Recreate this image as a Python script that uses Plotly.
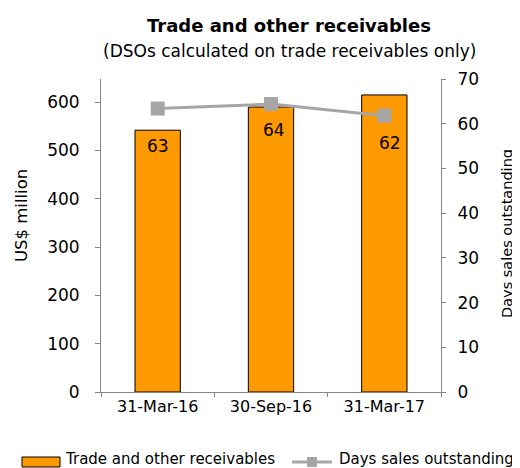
import plotly.graph_objects as go

categories = ["31-Mar-16", "30-Sep-16", "31-Mar-17"]
receivables = [542, 590, 615]
dso = [63.4, 64.4, 61.8]
dso_labels = ["63", "64", "62"]

FONT = "DejaVu Sans"
AXIS_GRAY = "#868686"
BAR_COLOR = "#FF9900"
LINE_COLOR = "#A6A6A6"

fig = go.Figure()
fig.add_trace(go.Bar(
    x=categories, y=receivables, name="Trade and other receivables",
    marker=dict(color=BAR_COLOR, line=dict(color="#000000", width=1)),
    width=0.4, yaxis="y",
))
fig.add_trace(go.Scatter(
    x=categories, y=dso, name="Days sales outstanding", mode="lines+markers",
    line=dict(color=LINE_COLOR, width=3),
    marker=dict(symbol="square", size=14, color=LINE_COLOR),
    yaxis="y2",
))

label_shift = [-37, -26, -27]
label_xshift = [0, 3, 6]
for c, v, t, s, xs in zip(categories, dso, dso_labels, label_shift, label_xshift):
    fig.add_annotation(x=c, y=v, yref="y2", text=t, showarrow=False,
                       xanchor="center", yanchor="middle",
                       yshift=s, xshift=xs, font=dict(size=17, color="#000000", family=FONT))

# The page body has an 8px margin, so the figure is sized to fit inside the window.
fig.update_layout(
    width=512, height=460,
    margin=dict(l=93, r=79, t=71, b=76, autoexpand=False),
    paper_bgcolor="white", plot_bgcolor="white",
    font=dict(family=FONT, size=15, color="#000000"),
    showlegend=False,
    bargap=0.6,
    xaxis=dict(showline=True, linecolor=AXIS_GRAY, linewidth=1, ticks="outside",
               tickson="boundaries", ticklen=4, tickcolor=AXIS_GRAY,
               tickfont=dict(size=16)),
    yaxis=dict(range=[0, 648], dtick=100, showline=True, linecolor=AXIS_GRAY,
               ticks="outside", ticklen=5, tickcolor=AXIS_GRAY, showgrid=False,
               zeroline=False, tickfont=dict(size=17), ticklabelstandoff=12),
    yaxis2=dict(range=[0, 70], dtick=10, overlaying="y", side="right", showline=True,
                linecolor=AXIS_GRAY, ticks="outside", ticklen=4, tickcolor=AXIS_GRAY,
                showgrid=False, zeroline=False, tickfont=dict(size=17), ticklabelstandoff=8),
)

def px_x(p):
    return (p - 101) / 340
def px_y(p):
    return (392 - p) / 313

def text_at(px, py, text, size, xanchor="center", angle=0):
    fig.add_annotation(x=px_x(px), y=px_y(py), xref="paper", yref="paper",
                       xanchor=xanchor, yanchor="middle", text=text, textangle=angle,
                       showarrow=False, font=dict(size=size, color="#000", family=FONT))

text_at(289, 26, "<b>Trade and other receivables</b>", 18)
text_at(289, 51, "(DSOs calculated on trade receivables only)", 17)
text_at(21, 216, "US$ million", 16.5, angle=-90)
text_at(507, 234, "Days sales outstanding", 14.5, angle=-90)

# Manual legend (Excel-style wide swatch)
fig.add_shape(type="rect", xref="paper", yref="paper",
              x0=px_x(22), x1=px_x(60), y0=px_y(467), y1=px_y(457),
              fillcolor=BAR_COLOR, line=dict(color="#000000", width=1))
text_at(63, 459, "Trade and other receivables", 15, xanchor="left")
fig.add_shape(type="line", xref="paper", yref="paper",
              x0=px_x(292), x1=px_x(332), y0=px_y(462), y1=px_y(462),
              line=dict(color=LINE_COLOR, width=3))
fig.add_shape(type="rect", xref="paper", yref="paper",
              x0=px_x(307), x1=px_x(317), y0=px_y(467), y1=px_y(457),
              fillcolor=LINE_COLOR, line=dict(width=0))
text_at(337, 459, "Days sales outstanding", 15, xanchor="left")

fig.write_html("out.html")
